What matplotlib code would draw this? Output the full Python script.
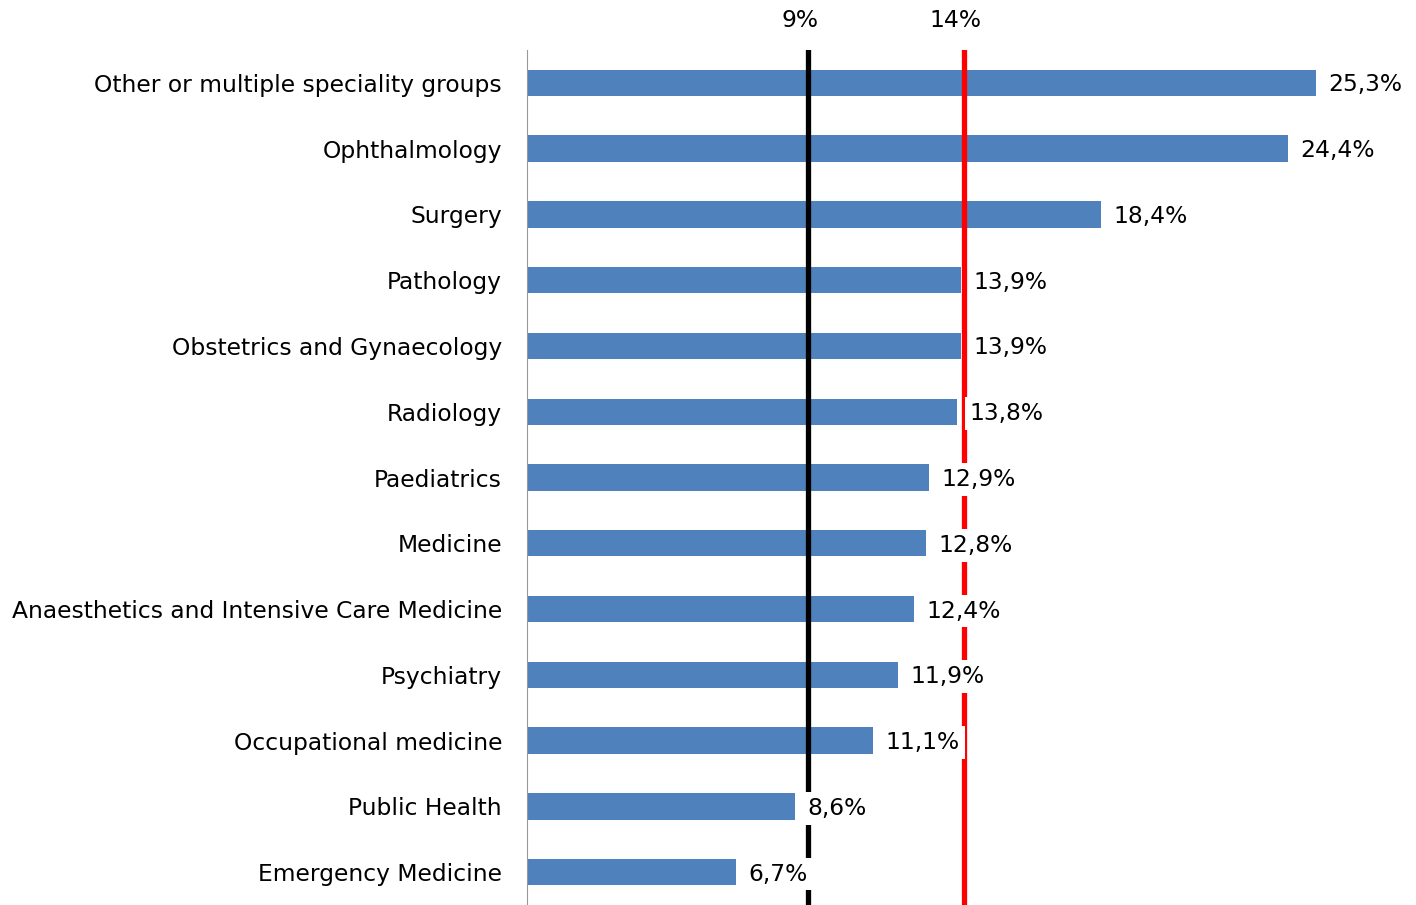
import matplotlib.pyplot as plt

# Data
categories = ['Other or multiple speciality groups', 'Ophthalmology', 'Surgery',
              'Pathology', 'Obstetrics and Gynaecology', 'Radiology', 'Paediatrics',
              'Medicine', 'Anaesthetics and Intensive Care Medicine', 'Psychiatry',
              'Occupational medicine', 'Public Health', 'Emergency Medicine']
values = [25.3, 24.4, 18.4, 13.9, 13.9, 13.8, 12.9, 12.8, 12.4, 11.9, 11.1, 8.6, 6.7]
ref_values = [9, 14]
ref_colors = ['black', 'red']

plt.rcParams['font.family'] = ['DejaVu Sans']
fs = 16.8

fig = plt.figure(figsize=(14.16, 9.05), dpi=100)
ax = fig.add_axes([527 / 1416, 0, 1 - 527 / 1416, 855 / 905])

ypos = list(range(len(categories)))
ax.barh(ypos, values, height=0.4, color='#4F81BD', zorder=2)

# reference lines with their labels above the plot
for v, c in zip(ref_values, ref_colors):
    ax.axvline(v, color=c, lw=3.8, zorder=3)
    ax.text(v - 0.25, -0.5 - 0.45, f'{v}%', ha='center', va='center', fontsize=fs,
            clip_on=False)

# value labels on white boxes, covering the lines
for y, v in zip(ypos, values):
    ax.text(v + 0.4, y + 0.03, f'{v:.1f}%'.replace('.', ','), ha='left', va='center',
            fontsize=fs, zorder=4,
            bbox=dict(facecolor='white', edgecolor='none', pad=3.5))

ax.set_xlim(0, 889 / 31.19)
ax.set_ylim(12.5, -0.5)
ax.set_yticks(ypos)
ax.set_yticklabels(categories, fontsize=fs)
ax.tick_params(axis='y', length=0, pad=18)
ax.set_xticks([])
for s in ['top', 'right', 'bottom']:
    ax.spines[s].set_visible(False)
ax.spines['left'].set_color('#999999')

fig.savefig('out.png', dpi=100)
